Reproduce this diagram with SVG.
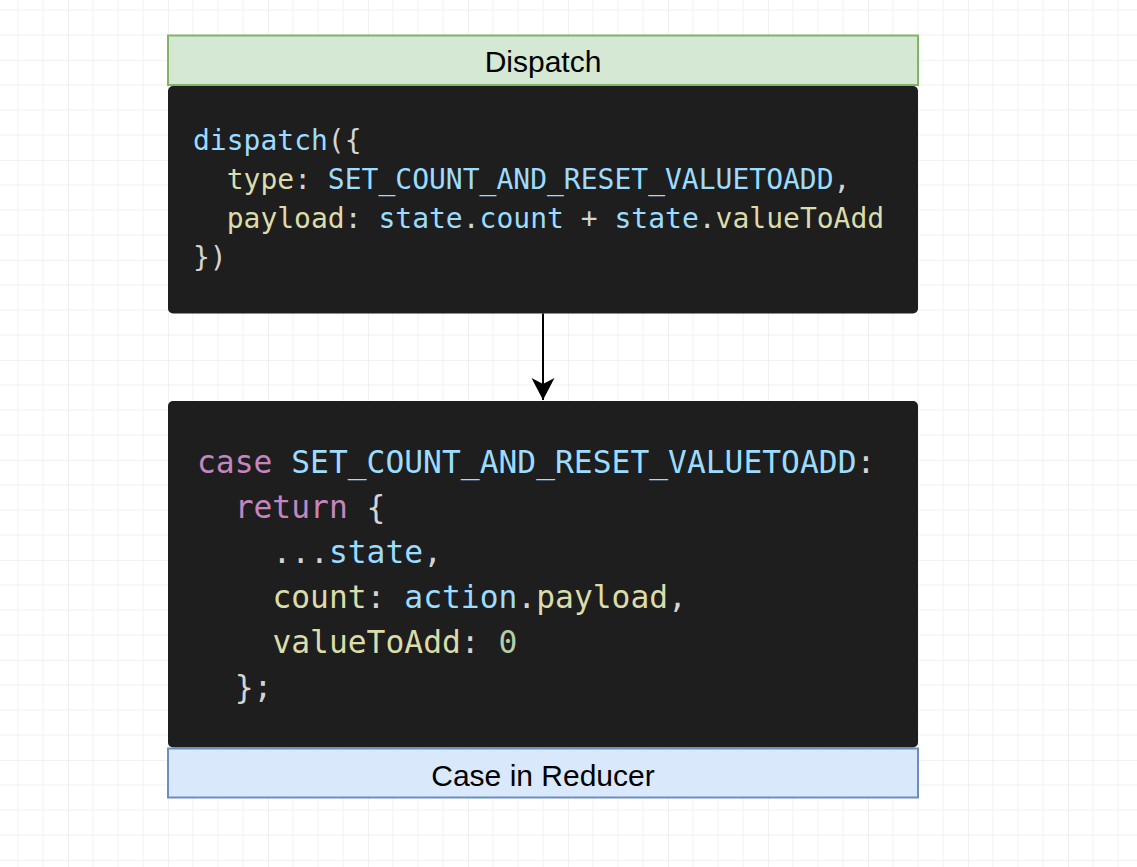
<svg xmlns="http://www.w3.org/2000/svg" width="1137" height="867" viewBox="0 0 1137 867">
<defs>
<pattern id="grid" patternUnits="userSpaceOnUse" x="68" y="60" width="100" height="100">
<path d="M25 0V100M50 0V100M75 0V100M0 25H100M0 50H100M0 75H100" stroke="#f1f1f1" stroke-width="1" fill="none"/>
<path d="M0 0V100M0 0H100" stroke="#e3e3e3" stroke-width="1" fill="none"/>
</pattern>
<marker id="arrow" markerUnits="userSpaceOnUse" markerWidth="24" markerHeight="24" refX="22" refY="12" orient="auto" viewBox="0 0 24 24">
<path d="M0 0.5L22 12L0 23.5L6 12Z" fill="#000"/>
</marker>
<style>
.code{font-family:"DejaVu Sans Mono","Liberation Mono",monospace;fill:#d4d4d4;}
.c1{font-size:28px;}
.c2{font-size:31.3px;}
.b{fill:#9cdcfe;}
.y{fill:#dcdcaa;}
.p{fill:#c586c0;}
.g{fill:#b5cea8;}
.lbl{font-family:"Liberation Sans",Arial,sans-serif;font-size:30px;fill:#000;text-anchor:middle;}
.dark{fill:#1e1e1e;}
</style>
</defs>
<rect width="1137" height="867" fill="#ffffff"/>
<rect width="1137" height="867" fill="url(#grid)"/>

<g id="dispatch-label">
<rect x="168" y="35.5" width="750" height="49.5" fill="#d5e8d4" stroke="#82b366" stroke-width="2"/>
<text class="lbl" x="543" y="72">Dispatch</text>
</g>

<g id="dispatch-code">
<rect class="dark" x="168" y="86" width="750" height="227.5" rx="5"/>
<text class="code c1" x="193" y="150"><tspan class="b">dispatch</tspan>({</text>
<text class="code c1" x="226.7" y="189"><tspan class="y">type</tspan>: <tspan class="b">SET_COUNT_AND_RESET_VALUETOADD</tspan>,</text>
<text class="code c1" x="226.7" y="228"><tspan class="y">payload</tspan>: <tspan class="b">state</tspan>.<tspan class="b">count</tspan> + <tspan class="b">state</tspan>.<tspan class="y">valueToAdd</tspan></text>
<text class="code c1" x="193" y="267">})</text>
</g>

<g id="connectors">
<line x1="543" y1="313.5" x2="543" y2="400" stroke="#000" stroke-width="2" marker-end="url(#arrow)"/>
</g>

<g id="reducer-code">
<rect class="dark" x="168" y="401" width="750" height="346.5" rx="5"/>
<text class="code c2" x="197" y="473"><tspan class="p">case</tspan> <tspan class="b">SET_COUNT_AND_RESET_VALUETOADD</tspan>:</text>
<text class="code c2" x="234.7" y="518"><tspan class="p">return</tspan> {</text>
<text class="code c2" x="272.4" y="563">...<tspan class="b">state</tspan>,</text>
<text class="code c2" x="272.4" y="608"><tspan class="y">count</tspan>: <tspan class="b">action</tspan>.<tspan class="y">payload</tspan>,</text>
<text class="code c2" x="272.4" y="653"><tspan class="y">valueToAdd</tspan>: <tspan class="g">0</tspan></text>
<text class="code c2" x="234.7" y="698">};</text>
</g>

<g id="reducer-label">
<rect x="168" y="748.5" width="750" height="49" fill="#dae8fc" stroke="#6c8ebf" stroke-width="2"/>
<text class="lbl" x="543" y="786">Case in Reducer</text>
</g>
</svg>
